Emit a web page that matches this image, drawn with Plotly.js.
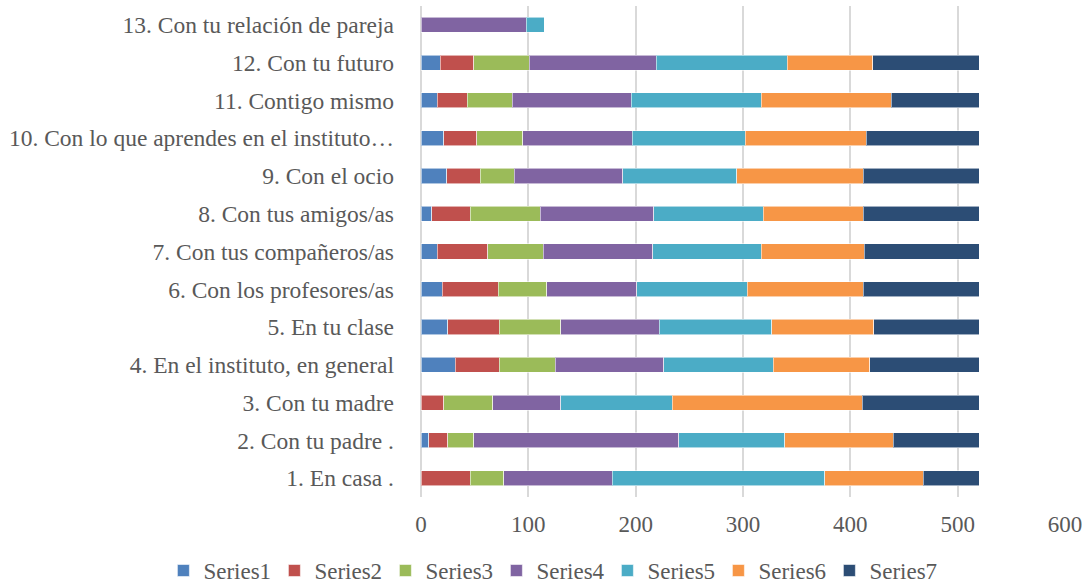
<!DOCTYPE html>
<html>
<head>
<meta charset="utf-8">
<script src="https://cdn.plot.ly/plotly-3.0.1.min.js"></script>
<style>html,body{margin:0;padding:0;background:#fff;}#chart{width:1086px;height:586px;}</style>
</head>
<body>
<div id="chart"></div>
<script>
const categories = [
  "1. En casa .",
  "2. Con tu padre .",
  "3. Con tu madre",
  "4. En el instituto, en general",
  "5. En tu clase",
  "6. Con los profesores/as",
  "7. Con tus compañeros/as",
  "8. Con tus amigos/as",
  "9. Con el ocio",
  "10. Con lo que aprendes en el instituto…",
  "11. Contigo mismo",
  "12. Con tu futuro",
  "13. Con tu relación de pareja"
];
const seriesNames = ["Series1","Series2","Series3","Series4","Series5","Series6","Series7"];
const series1 = [0, 7, 0, 32, 25, 20, 15, 10, 24, 21, 15, 18, 0];
const series2 = [46, 18, 21, 41, 48, 52, 47, 36, 31, 31, 28, 31, 0];
const series3 = [31, 24, 46, 52, 57, 45, 52, 65, 32, 43, 42, 52, 0];
const series4 = [101, 191, 63, 101, 92, 84, 102, 106, 101, 102, 111, 118, 98];
const series5 = [198, 99, 104, 102, 105, 103, 101, 102, 106, 105, 121, 122, 17];
const series6 = [92, 101, 177, 90, 95, 108, 96, 93, 118, 113, 121, 80, 0];
const series7 = [52, 80, 109, 102, 98, 108, 107, 108, 108, 105, 82, 99, 0];
const colors = ["#4F81BD","#C0504D","#9BBB59","#8064A2","#4BACC6","#F79646","#2C4D75"];

const allSeries = [series1, series2, series3, series4, series5, series6, series7];
const traces = allSeries.map((vals, i) => ({
  type: "bar",
  orientation: "h",
  name: seriesNames[i],
  y: categories,
  x: vals,
  marker: {color: colors[i], line: {color: "rgba(255,255,255,0.55)", width: 1}},
  hoverinfo: "x+name"
}));

const fam = "Liberation Serif";
const font = {family: fam, size: 23, color: "#595959"};
const catFont = {family: fam, size: 23.5, color: "#595959"};

const layout = {
  width: 1086,
  height: 586,
  barmode: "stack",
  bargap: 0.6,
  paper_bgcolor: "#fff",
  plot_bgcolor: "#fff",
  font: font,
  margin: {l: 421, r: 21, t: 6, b: 89, autoexpand: false},
  xaxis: {
    range: [0, 600],
    tickvals: [0, 100, 200, 300, 400, 500, 600],
    showgrid: true,
    gridcolor: "#D9D9D9",
    gridwidth: 2,
    zeroline: true,
    zerolinecolor: "#D9D9D9",
    zerolinewidth: 2,
    showline: false,
    ticks: "",
    ticklabelstandoff: 11,
    tickfont: font
  },
  yaxis: {
    type: "category",
    categoryorder: "array",
    categoryarray: categories,
    showgrid: false,
    zeroline: false,
    showline: false,
    ticks: "",
    ticklabelstandoff: 26,
    tickfont: catFont
  },
  showlegend: true,
  legend: {
    orientation: "h",
    xref: "paper",
    yref: "paper",
    x: -0.40,
    xanchor: "left",
    y: -0.106,
    yanchor: "top",
    font: font,
    traceorder: "normal",
    itemwidth: 30,
    entrywidth: 66,
    entrywidthmode: "pixels"
  }
};

Plotly.newPlot("chart", traces, layout, {displayModeBar: false, staticPlot: true});
</script>
</body>
</html>
